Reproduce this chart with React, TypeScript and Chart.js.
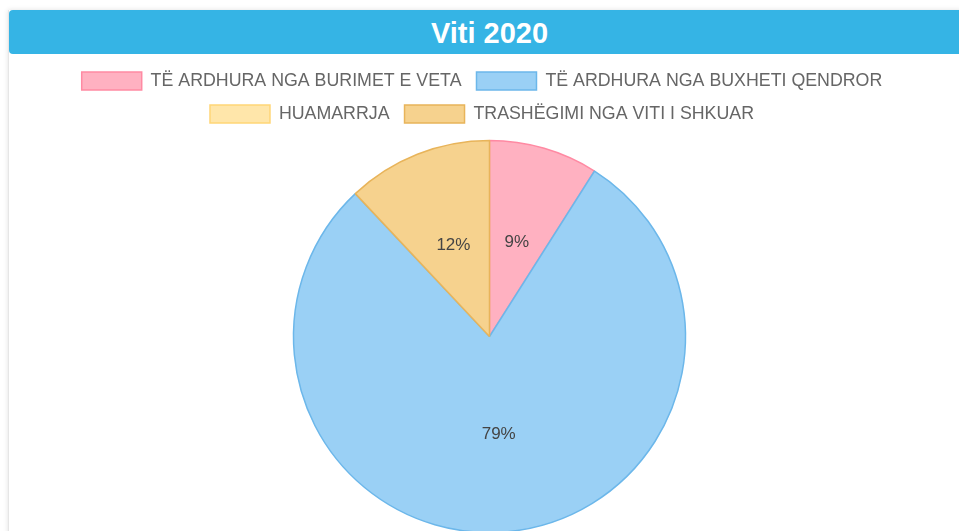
import React, { useEffect, useRef } from "react";
import { Chart, registerables } from "chart.js";

Chart.register(...registerables);

const title = "Viti 2020";
const categories = [
  "TË ARDHURA NGA BURIMET E VETA",
  "TË ARDHURA NGA BUXHETI QENDROR",
  "HUAMARRJA",
  "TRASHËGIMI NGA VITI I SHKUAR",
];
const values = [9, 79, 0, 12];
const fillColors = ["#ffb1c1", "#9ad0f5", "#ffe6aa", "#f6d28e"];
const borderColors = ["#ff8aa3", "#6cb7ea", "#ffd677", "#e8b45a"];

const percentLabels = {
  id: "percentLabels",
  afterDatasetsDraw(chart: any) {
    const ctx = chart.ctx;
    const meta = chart.getDatasetMeta(0);
    const data = chart.data.datasets[0].data as number[];
    const total = data.reduce((a, b) => a + b, 0);
    ctx.save();
    ctx.font = "17px 'Liberation Sans', Arial, sans-serif";
    ctx.fillStyle = "#444";
    ctx.textAlign = "center";
    ctx.textBaseline = "middle";
    meta.data.forEach((arc: any, i: number) => {
      const v = data[i];
      if (!v) return;
      const p = arc.tooltipPosition();
      ctx.fillText(Math.round((v / total) * 100) + "%", p.x, p.y);
    });
    ctx.restore();
  },
};

// centre legend rows including their trailing padding (older Chart.js behaviour)
const legendShift = {
  id: "legendShift",
  afterLayout(chart: any) {
    const lg = chart.legend;
    if (!lg) return;
    const pad = lg.options.labels.padding / 2;
    lg.left -= pad;
    lg.right -= pad;
  },
};

export default function App() {
  const ref = useRef<HTMLCanvasElement | null>(null);

  useEffect(() => {
    document.documentElement.style.overflow = "hidden";
    const chart = new Chart(ref.current as HTMLCanvasElement, {
      type: "pie",
      data: {
        labels: categories,
        datasets: [
          {
            data: values,
            backgroundColor: fillColors,
            borderColor: borderColors,
            borderWidth: 1.5,
          },
        ],
      },
      options: {
        animation: false,
        responsive: true,
        maintainAspectRatio: false,
        radius: 196,
        layout: { padding: { top: 3, bottom: 0, left: 0, right: 0 } },
        plugins: {
          legend: {
            position: "top",
            labels: {
              boxWidth: 60,
              boxHeight: 18,
              padding: 15,
              color: "#666",
              font: { size: 17.8, family: "'Liberation Sans', Arial, sans-serif" },
            },
          },
          tooltip: { enabled: false },
        },
      } as any,
      plugins: [percentLabels, legendShift],
    });
    return () => chart.destroy();
  }, []);

  return (
    <div
      style={{
        position: "absolute",
        left: 8,
        top: 10,
        width: 962,
        height: 540,
        boxSizing: "border-box",
        background: "#fff",
        borderLeft: "1px solid #e6e6e6",
        boxShadow: "0 0 5px rgba(0,0,0,0.12)",
      }}
    >
      <div
        style={{
          height: 44,
          background: "#35b4e5",
          borderRadius: "4px 0 0 4px",
          color: "#fff",
          fontFamily: "'Liberation Sans', Arial, sans-serif",
          fontWeight: "bold",
          fontSize: 29,
          lineHeight: "46px",
          textAlign: "center",
        }}
      >
        {title}
      </div>
      <div style={{ position: "relative", width: 961, height: 486 }}>
        <canvas ref={ref} />
      </div>
    </div>
  );
}
